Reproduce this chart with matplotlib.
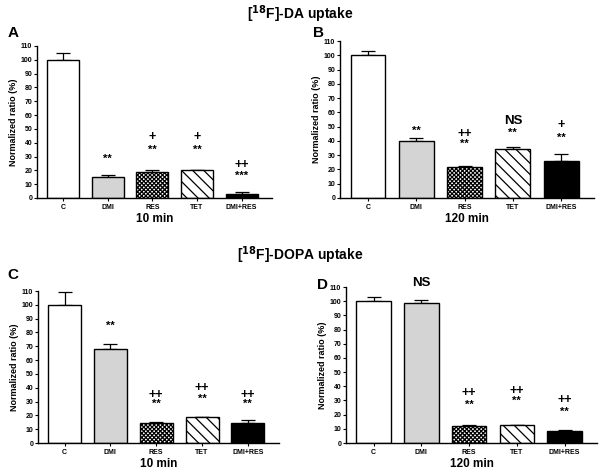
import matplotlib
matplotlib.use("Agg")
import matplotlib.pyplot as plt

plt.rcParams['font.family'] = ['Liberation Sans', 'DejaVu Sans']
plt.rcParams['hatch.linewidth'] = 0.9

categories = ["C", "DMI", "RES", "TET", "DMI+RES"]

a_vals = [100, 15, 19, 20, 3]
a_err = [5, 1.5, 1, 0.5, 1.5]
b_vals = [100, 40, 21.5, 34, 26]
b_err = [3, 2, 1, 2, 4.5]
c_vals = [100, 68, 14.5, 18.5, 14.5]
c_err = [9, 4, 1, 0.5, 2.5]
d_vals = [100, 99, 12, 12.5, 8.5]
d_err = [3, 2, 1, 0.5, 0.5]

# annotations: (category index, y value, text, big)
a_ann = [(1, 28, "**", False), (2, 35, "**", False), (2, 44, "+", False),
         (3, 35, "**", False), (3, 44, "+", False),
         (4, 16, "***", False), (4, 24, "++", False)]
b_ann = [(1, 47, "**", False), (2, 38, "**", False), (2, 45, "++", False),
         (3, 46, "**", False), (3, 54, "NS", True),
         (4, 42, "**", False), (4, 51, "+", False)]
c_ann = [(1, 85, "**", False), (2, 28, "**", False), (2, 35, "++", False),
         (3, 32, "**", False), (3, 40, "++", False),
         (4, 28, "**", False), (4, 35, "++", False)]
d_ann = [(1, 113, "NS", True), (2, 27, "**", False), (2, 35, "++", False),
         (3, 30, "**", False), (3, 37, "++", False),
         (4, 22, "**", False), (4, 30, "++", False)]

colors = ["white", "#d4d4d4", "white", "white", "black"]
hatches = [None, None, "xxxxxxxx", "\\\\\\", None]

W, H = 600, 472
fig = plt.figure(figsize=(W / 100, H / 100), dpi=100)


def make_axes(x0, x1, y_top, y_bottom):
    return fig.add_axes([x0 / W, 1 - y_bottom / H, (x1 - x0) / W, (y_bottom - y_top) / H])


def panel(ax, vals, errs, ann, xlabel):
    x = list(range(len(categories)))
    for i in x:
        ax.bar(i, vals[i], width=0.72, color=colors[i], edgecolor="black",
               linewidth=1.0, hatch=hatches[i], zorder=2)
        ax.errorbar(i, vals[i], yerr=[[0], [errs[i]]], fmt="none", ecolor="black",
                    elinewidth=0.9, capsize=4.7, capthick=0.9, zorder=1)
    ax.set_xlim(-0.58, 4.68)
    ax.set_ylim(0, 110)
    ax.set_yticks(range(0, 111, 10))
    ax.set_xticks(x)
    ax.set_xticklabels(categories, fontsize=5, fontweight="bold")
    ax.tick_params(axis="y", labelsize=5, length=2.5, width=0.8, pad=1)
    ax.tick_params(axis="x", length=2.5, width=0.8, pad=2)
    for lab in ax.get_yticklabels():
        lab.set_fontweight("bold")
    ax.spines["top"].set_visible(False)
    ax.spines["right"].set_visible(False)
    ax.spines["left"].set_linewidth(1.0)
    ax.spines["bottom"].set_linewidth(1.0)
    ax.set_ylabel("Normalized ratio (%)", fontsize=6.5, fontweight="bold", labelpad=2)
    ax.set_xlabel(xlabel, fontsize=8.5, fontweight="bold", labelpad=1)
    for i, y, t, big in ann:
        size = 9.5 if big else (9 if "+" in t else 8)
        ax.text(i, y, t, ha="center", va="center", fontweight="bold",
                fontsize=size, clip_on=False)


axA = make_axes(37, 272, 46, 198)
axB = make_axes(340, 594, 41, 198)
axC = make_axes(38, 279, 291, 443)
axD = make_axes(346, 597, 287, 443)

panel(axA, a_vals, a_err, a_ann, "10 min")
panel(axB, b_vals, b_err, b_ann, "120 min")
panel(axC, c_vals, c_err, c_ann, "10 min")
panel(axD, d_vals, d_err, d_ann, "120 min")

fig.text(300 / W, 1 - 14 / H, r"[$^{\mathbf{18}}$F]-DA uptake", ha="center", va="center",
         fontsize=10, fontweight="bold")
fig.text(300 / W, 1 - 255 / H, r"[$^{\mathbf{18}}$F]-DOPA uptake", ha="center", va="center",
         fontsize=10, fontweight="bold")

for lx, ly, lab in [(13, 33, "A"), (318, 33, "B"), (13, 275, "C"), (322, 285, "D")]:
    fig.text(lx / W, 1 - ly / H, lab, ha="center", va="center", fontsize=11, fontweight="bold")

fig.savefig("out.png", dpi=100)
